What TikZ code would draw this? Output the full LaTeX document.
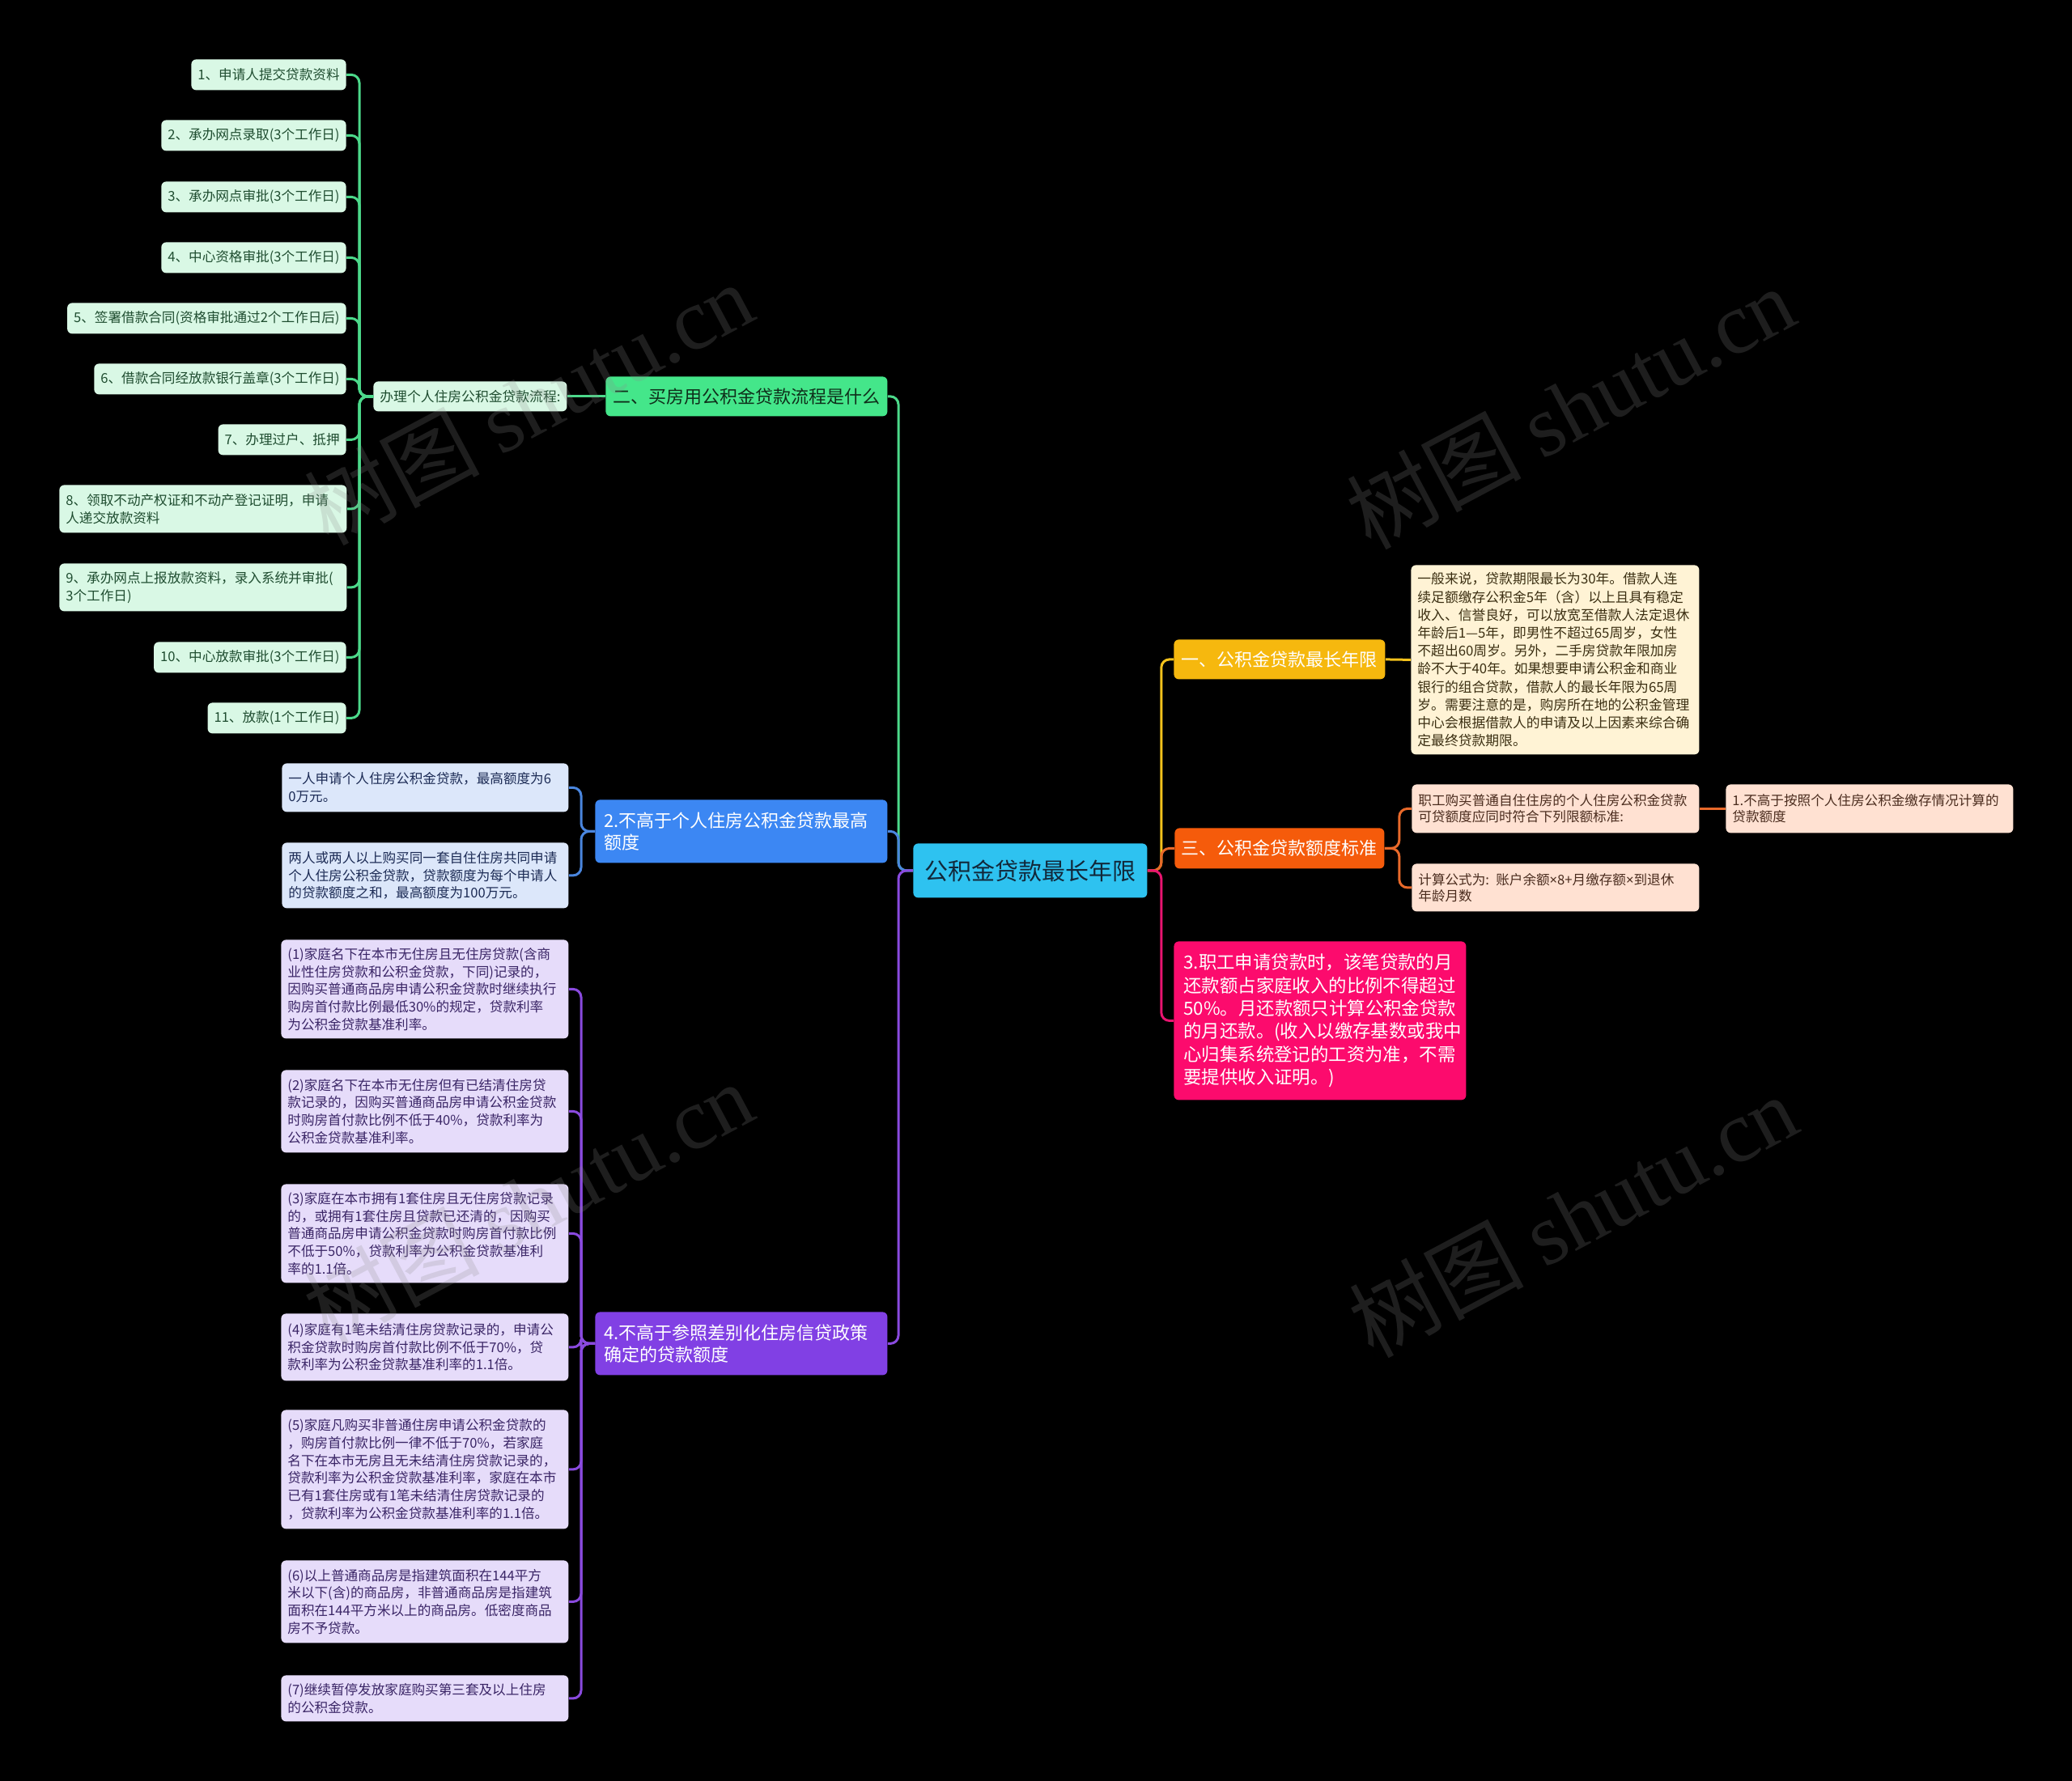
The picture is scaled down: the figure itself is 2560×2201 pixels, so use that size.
\documentclass[tikz,border=0pt]{standalone}
\usepackage{fontspec}
\setmainfont{Noto Sans CJK SC}
\newfontfamily\wmlatin{Liberation Serif}
\newfontfamily\latinf{Noto Sans}
\newcommand\setfs[2]{\fontsize{#1}{#2}\selectfont}
\newcommand\mtimes{{\latinf ×}}
\definecolor{bgc}{HTML}{000000}
\definecolor{gTwo}{HTML}{44E68A}
\definecolor{gTwoT}{HTML}{0F2E1A}
\definecolor{gThree}{HTML}{D9F8E5}
\definecolor{gThreeT}{HTML}{1F4D30}
\definecolor{gLine}{HTML}{4CD98A}
\definecolor{bTwo}{HTML}{3C87F3}
\definecolor{bThree}{HTML}{DCE7FA}
\definecolor{bThreeT}{HTML}{1C2B55}
\definecolor{bLine}{HTML}{4A86DE}
\definecolor{pTwo}{HTML}{8140E4}
\definecolor{pThree}{HTML}{E6DCFA}
\definecolor{pThreeT}{HTML}{3A2566}
\definecolor{pLine}{HTML}{8A4ADF}
\definecolor{cen}{HTML}{2EC2F0}
\definecolor{cenT}{HTML}{12283A}
\definecolor{yTwo}{HTML}{F6B80E}
\definecolor{yThree}{HTML}{FFF3D5}
\definecolor{yThreeT}{HTML}{3B2F12}
\definecolor{yLine}{HTML}{F4C21C}
\definecolor{oTwo}{HTML}{F55B0B}
\definecolor{oThree}{HTML}{FFE1D2}
\definecolor{oThreeT}{HTML}{4A2C1E}
\definecolor{oLine}{HTML}{E8692A}
\definecolor{pk}{HTML}{FC0B6D}
\definecolor{pkLine}{HTML}{E81470}
\begin{document}
\begin{tikzpicture}[x=0.5pt,y=-0.5pt,
  box/.style={rounded corners=3pt, inner ysep=0pt, anchor=north west},
  small/.style={font=\setfs{8.3pt}{10.85pt}},
  lvtwo/.style={font=\setfs{11pt}{13.4pt}},
  gi/.style={box, small, fill=gThree, text=gThreeT, inner xsep=4pt, minimum height=19pt},
  bi/.style={box, small, fill=bThree, text=bThreeT, inner xsep=4pt, text width=169pt, align=left},
  pi/.style={box, small, fill=pThree, text=pThreeT, inner xsep=4pt, text width=169.5pt, align=left},
  oi/.style={box, small, fill=oThree, text=oThreeT, inner xsep=4pt, text width=169.5pt, align=left, font=\setfs{8.3pt}{10pt}},
  conn/.style={line width=1.5pt, rounded corners=5pt},
  wm/.style={opacity=0.22, text=white!55!black, rotate=28, inner sep=0pt}
]
\fill[bgc] (0,0) rectangle (2560,2201);
\useasboundingbox (0,0) rectangle (2560,2201);

% central
\node[box, fill=cen, text=cenT, minimum width=144.5pt, minimum height=33.5pt, align=center, font=\setfs{14.5pt}{17pt}] (root) at (1128,1042) {公积金贷款最长年限};

% green branch
\node[box, lvtwo, fill=gTwo, text=gTwoT, minimum width=174pt, minimum height=24.5pt, align=center] (g2) at (748,465) {二、买房用公积金贷款流程是什么};
\node[box, fill=gThree, text=gThreeT, inner xsep=4pt, minimum height=18.5pt, font=\setfs{8.4pt}{10.5pt}] (gp) at (461,471) {办理个人住房公积金贷款流程:};

\node[gi, anchor=north east] (i1) at (428,73) {1、申请人提交贷款资料};
\node[gi, anchor=north east] (i2) at (428,148) {2、承办网点录取(3个工作日)};
\node[gi, anchor=north east] (i3) at (428,224) {3、承办网点审批(3个工作日)};
\node[gi, anchor=north east] (i4) at (428,299) {4、中心资格审批(3个工作日)};
\node[gi, anchor=north east] (i5) at (428,374) {5、签署借款合同(资格审批通过2个工作日后)};
\node[gi, anchor=north east] (i6) at (428,449) {6、借款合同经放款银行盖章(3个工作日)};
\node[gi, anchor=north east] (i7) at (428,524) {7、办理过户、抵押};
\node[gi, text width=169.5pt, align=left, minimum height=29.5pt] (i8) at (73,599) {8、领取不动产权证和不动产登记证明，申请\\人递交放款资料};
\node[gi, text width=169.5pt, align=left, minimum height=29.5pt] (i9) at (73,696) {9、承办网点上报放款资料，录入系统并审批(\\3个工作日)};
\node[gi, anchor=north east] (i10) at (428,793) {10、中心放款审批(3个工作日)};
\node[gi, anchor=north east] (i11) at (428,868) {11、放款(1个工作日)};

% blue branch
\node[box, fill=bTwo, text=white, inner xsep=5.5pt, text width=169.5pt, align=left, minimum height=39pt, font=\setfs{11pt}{13.4pt}] (b2) at (735,988) {2.不高于个人住房公积金贷款最高\\额度};
\node[bi, minimum height=30pt] (b21) at (348,943) {一人申请个人住房公积金贷款，最高额度为6\\0万元。};
\node[bi, minimum height=40.5pt] (b22) at (348,1041) {两人或两人以上购买同一套自住住房共同申请\\个人住房公积金贷款，贷款额度为每个申请人\\的贷款额度之和，最高额度为100万元。};

% purple branch
\node[box, fill=pTwo, text=white, inner xsep=5.5pt, text width=169.5pt, align=left, minimum height=39pt, font=\setfs{11pt}{13.4pt}] (p2) at (735,1621) {4.不高于参照差别化住房信贷政策\\确定的贷款额度};
\node[pi, minimum height=61pt] (p41) at (347,1161) {(1)家庭名下在本市无住房且无住房贷款(含商\\业性住房贷款和公积金贷款，下同)记录的，\\因购买普通商品房申请公积金贷款时继续执行\\购房首付款比例最低30\%的规定，贷款利率\\为公积金贷款基准利率。};
\node[pi, minimum height=51pt] (p42) at (347,1322) {(2)家庭名下在本市无住房但有已结清住房贷\\款记录的，因购买普通商品房申请公积金贷款\\时购房首付款比例不低于40\%，贷款利率为\\公积金贷款基准利率。};
\node[pi, minimum height=61pt] (p43) at (347,1463) {(3)家庭在本市拥有1套住房且无住房贷款记录\\的，或拥有1套住房且贷款已还清的，因购买\\普通商品房申请公积金贷款时购房首付款比例\\不低于50\%，贷款利率为公积金贷款基准利\\率的1.1倍。};
\node[pi, minimum height=41.5pt] (p44) at (347,1623) {(4)家庭有1笔未结清住房贷款记录的，申请公\\积金贷款时购房首付款比例不低于70\%，贷\\款利率为公积金贷款基准利率的1.1倍。};
\node[pi, minimum height=73.5pt] (p45) at (347,1742) {(5)家庭凡购买非普通住房申请公积金贷款的\\，购房首付款比例一律不低于70\%，若家庭\\名下在本市无房且无未结清住房贷款记录的，\\贷款利率为公积金贷款基准利率，家庭在本市\\已有1套住房或有1笔未结清住房贷款记录的\\，贷款利率为公积金贷款基准利率的1.1倍。};
\node[pi, minimum height=51pt] (p46) at (347,1928) {(6)以上普通商品房是指建筑面积在144平方\\米以下(含)的商品房，非普通商品房是指建筑\\面积在144平方米以上的商品房。低密度商品\\房不予贷款。};
\node[pi, minimum height=28.5pt] (p47) at (347,2070) {(7)继续暂停发放家庭购买第三套及以上住房\\的公积金贷款。};

% yellow branch
\node[box, lvtwo, fill=yTwo, text=white, minimum width=130.5pt, minimum height=24.5pt, align=center] (y2) at (1450,790) {一、公积金贷款最长年限};
\node[box, small, fill=yThree, text=yThreeT, inner xsep=4pt, text width=170pt, align=left, minimum height=117pt, font=\setfs{8.4pt}{11.1pt}] (y21) at (1743,698) {一般来说，贷款期限最长为30年。借款人连\\续足额缴存公积金5年（含）以上且具有稳定\\收入、信誉良好，可以放宽至借款人法定退休\\年龄后1—5年，即男性不超过65周岁，女性\\不超出60周岁。另外，二手房贷款年限加房\\龄不大于40年。如果想要申请公积金和商业\\银行的组合贷款，借款人的最长年限为65周\\岁。需要注意的是，购房所在地的公积金管理\\中心会根据借款人的申请及以上因素来综合确\\定最终贷款期限。};

% orange branch
\node[box, lvtwo, fill=oTwo, text=white, minimum width=129.5pt, minimum height=25pt, align=center] (o2) at (1451,1023) {三、公积金贷款额度标准};
\node[oi, minimum height=30pt] (o21) at (1744,969) {职工购买普通自住住房的个人住房公积金贷款\\可贷额度应同时符合下列限额标准:};
\node[oi, minimum height=30pt] (o211) at (2132,969) {1.不高于按照个人住房公积金缴存情况计算的\\贷款额度};
\node[oi, minimum height=29.5pt] (o22) at (1744,1067) {计算公式为: 账户余额\mtimes 8+月缴存额\mtimes 到退休\\年龄月数};

% pink branch
\node[box, fill=pk, text=white, inner xsep=6pt, text width=168.5pt, align=left, minimum height=98pt, font=\setfs{11.2pt}{14.15pt}] (pk3) at (1450,1163) {3.职工申请贷款时，该笔贷款的月\\还款额占家庭收入的比例不得超过\\50\%。月还款额只计算公积金贷款\\的月还款。(收入以缴存基数或我中\\心归集系统登记的工资为准，不需\\要提供收入证明。)};

% connectors: trunk
\draw[conn, gLine] (root.west) -- ++(-18,0) |- (g2.east);
\draw[conn, bLine] (root.west) -- ++(-18,0) |- (b2.east);
\draw[conn, pLine] (root.west) -- ++(-18,0) |- (p2.east);
\draw[conn, yLine] (root.east) -- ++(17,0) |- (y2.west);
\draw[conn, oLine] (root.east) -- ++(17,0) |- (o2.west);
\draw[conn, pkLine] (root.east) -- ++(17,0) |- (pk3.west);

% green
\draw[conn, gLine] (g2.west) -- (gp.east);
\foreach \n in {i1,i2,i3,i4,i5,i6,i7,i8,i9,i10,i11}
  \draw[conn, gLine] (gp.west) -- ++(-17,0) |- (\n.east);

% blue
\foreach \n in {b21,b22}
  \draw[conn, bLine] (b2.west) -- ++(-17,0) |- (\n.east);

% purple
\foreach \n in {p41,p42,p43,p44,p45,p46,p47}
  \draw[conn, pLine] (p2.west) -- ++(-17,0) |- (\n.east);

% yellow
\draw[conn, yLine] (y2.east) -- (y21.west);

% orange
\draw[conn, oLine] (o2.east) -- ++(18,0) |- (o21.west);
\draw[conn, oLine] (o2.east) -- ++(18,0) |- (o22.west);
\draw[conn, oLine] (o21.east) -- (o211.west);

% watermarks
\node[wm] (wm1) at (653,498) {\setfs{54pt}{60pt}树图 {\wmlatin shutu.cn}};
\node[wm] (wm2) at (1940,503) {\setfs{54pt}{60pt}树图 {\wmlatin shutu.cn}};
\node[wm] (wm3) at (653,1486) {\setfs{54pt}{60pt}树图 {\wmlatin shutu.cn}};
\node[wm] (wm4) at (1943,1502) {\setfs{54pt}{60pt}树图 {\wmlatin shutu.cn}};
\end{tikzpicture}
\end{document}
